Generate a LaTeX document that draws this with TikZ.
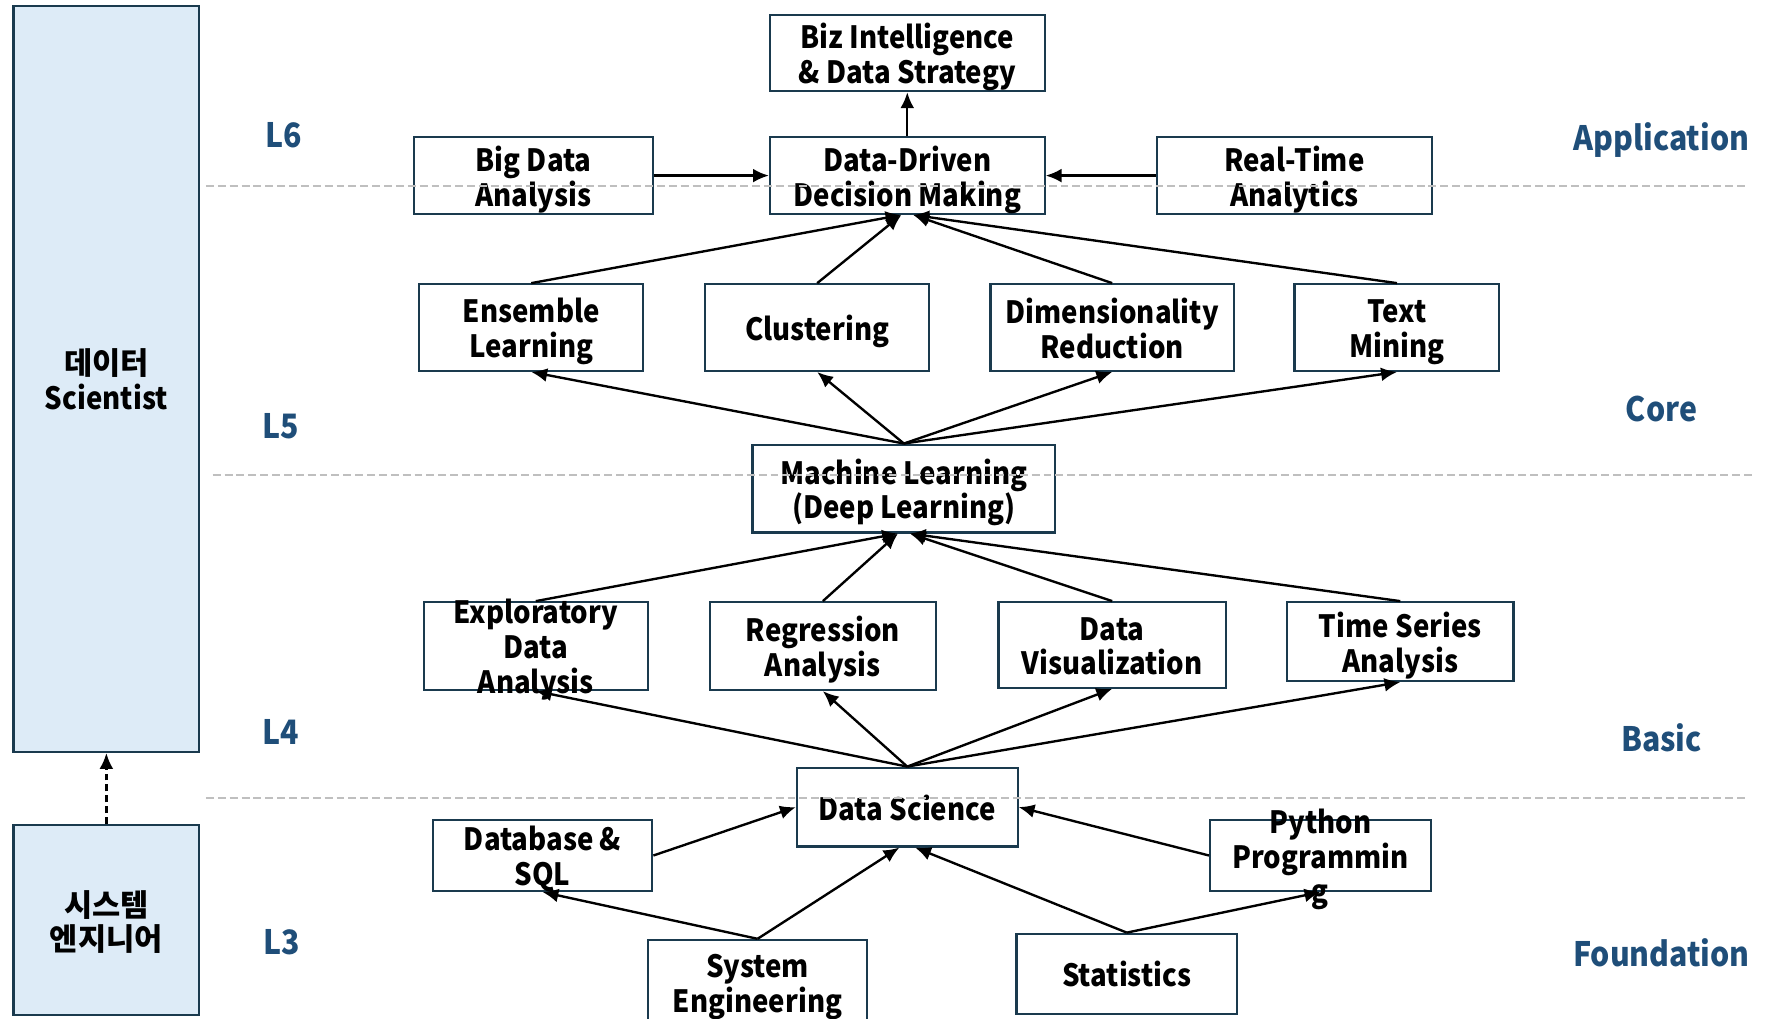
\documentclass[tikz,border=0pt]{standalone}
\usepackage{fontspec}
\setmainfont{Noto Sans CJK KR}[FakeStretch=0.9]
\newfontfamily\kr{Noto Sans CJK KR}
\usetikzlibrary{arrows.meta,positioning}
\definecolor{boxline}{HTML}{1A3A4E}
\definecolor{levelblue}{HTML}{1F4E79}
\definecolor{rolefill}{HTML}{DDEBF7}
\definecolor{sepgray}{HTML}{BFBFBF}

\begin{document}
\begin{tikzpicture}[x=0.2mm, y=-0.2mm,
    boxtext/.style={align=center, font=\fontsize{15.5pt}{17.6pt}\selectfont\bfseries},
    box/.style 2 args={draw=boxline, line width=1.1pt, fill=white, inner sep=0pt,
      minimum width=#1*0.2mm, minimum height=#2*0.2mm},
    txt/.style={label={[boxtext, yshift=-2.8pt]center:\rule{0pt}{12.3pt}#1\rule[-5.3pt]{0pt}{5.3pt}}},
    role/.style={box={165}{#1}, fill=rolefill},
    level/.style={text=levelblue, font=\fontsize{17pt}{20pt}\selectfont\bfseries},
    link/.style={-{Latex[length=8pt,width=7pt]}, line width=1.2pt},
    sep/.style={sepgray, line width=1.1pt, dash pattern=on 4pt off 2pt}]
    \useasboundingbox (0,0) rectangle (1568,905);

    % roles
    \node[role=663, txt={{\kr 데이터}\\Scientist}] (scientist) at (94.5,336.5) {};
    \node[role=169, txt={\kr 시스템\\\kr 엔지니어}] (engineer) at (94.5,817.5) {};
    \draw[link, line width=1.3pt, dash pattern=on 3.5pt off 2pt] (engineer) -- (scientist);

    % levels
    \node[level] (l6) at (252,120) {L6};
    \node[level] (l5) at (249,379) {L5};
    \node[level] (l4) at (249,650) {L4};
    \node[level] (l3) at (250,837) {L3};
    \node[level] (application) at (1476,124) {Application};
    \node[level] (core) at (1476,363) {Core};
    \node[level] (basic) at (1476,655) {Basic};
    \node[level] (foundation) at (1476,846) {Foundation};

    % L6
    \node[box={244}{68}, txt={Biz Intelligence\\\& Data Strategy}] (biz) at (806,47) {};
    \node[box={212}{68}, txt={Big Data\\Analysis}] (bigdata) at (474,156) {};
    \node[box={244}{68}, txt={Data-Driven\\Decision Making}] (dddm) at (806,156) {};
    \node[box={245}{68}, txt={Real-Time\\Analytics}] (realtime) at (1150,156) {};

    % L5
    \node[box={199}{77}, txt={Ensemble\\Learning}] (ensemble) at (472,291) {};
    \node[box={199}{77}, txt={Clustering}] (clustering) at (726,291) {};
    \node[box={216}{77}, txt={Dimensionality\\Reduction}] (dimred) at (988,291) {};
    \node[box={182}{77}, txt={Text\\Mining}] (textmining) at (1241,291) {};
    \node[box={269}{78}, txt={Machine Learning\\(Deep Learning)}] (ml) at (803,434) {};

    % L4
    \node[box={199}{78}, txt={Exploratory\\Data\\Analysis}] (eda) at (476,574) {};
    \node[box={201}{78}, txt={Regression\\Analysis}] (regression) at (731,574) {};
    \node[box={202}{76}, txt={Data\\Visualization}] (datavis) at (988,573) {};
    \node[box={201}{70}, txt={Time Series\\Analysis}] (timeseries) at (1244,570) {};
    \node[box={196}{70}, txt={Data Science}] (ds) at (806,717) {};

    % L3
    \node[box={195}{63}, txt={Database \&\\SQL}] (dbsql) at (482,760) {};
    \node[box={196}{63}, txt={Python\\Programmin\\g}] (python) at (1173,760) {};
    \node[box={195}{76}, txt={System\\Engineering}] (syseng) at (673,873) {};
    \node[box={196}{71}, txt={Statistics}] (stats) at (1001,865) {};

    \draw[link] (dddm) -- (biz);
    \draw[link] (bigdata) -- (dddm);
    \draw[link] (realtime) -- (dddm);
    \foreach \n/\s in {ensemble/-3pt, clustering/-3pt, dimred/3pt, textmining/3pt}
      \draw[link] (\n.north) -- ([xshift=\s]dddm.south);
    \foreach \n in {ensemble, clustering, dimred, textmining}
      \draw[link] (ml.north) -- (\n.south);
    \foreach \n/\s in {eda/-3pt, regression/-3pt, datavis/3pt, timeseries/3pt}
      \draw[link] (\n.north) -- ([xshift=\s]ml.south);
    \foreach \n in {eda, regression, datavis, timeseries}
      \draw[link] (ds.north) -- (\n.south);
    \draw[link] (dbsql.east) -- (ds.west);
    \draw[link] (python.west) -- (ds.east);
    \draw[link] (syseng.north) -- (dbsql.south);
    \draw[link] (syseng.north) -- ([xshift=-4pt]ds.south);
    \draw[link] (stats.north) -- ([xshift=4pt]ds.south);
    \draw[link] (stats.north) -- (python.south);

    % level separators
    \draw[sep] (183,165) -- (1552,165);
    \draw[sep] (189,422) -- (1556,422);
    \draw[sep] (183,709) -- (1552,709);
  \end{tikzpicture}
\end{document}
